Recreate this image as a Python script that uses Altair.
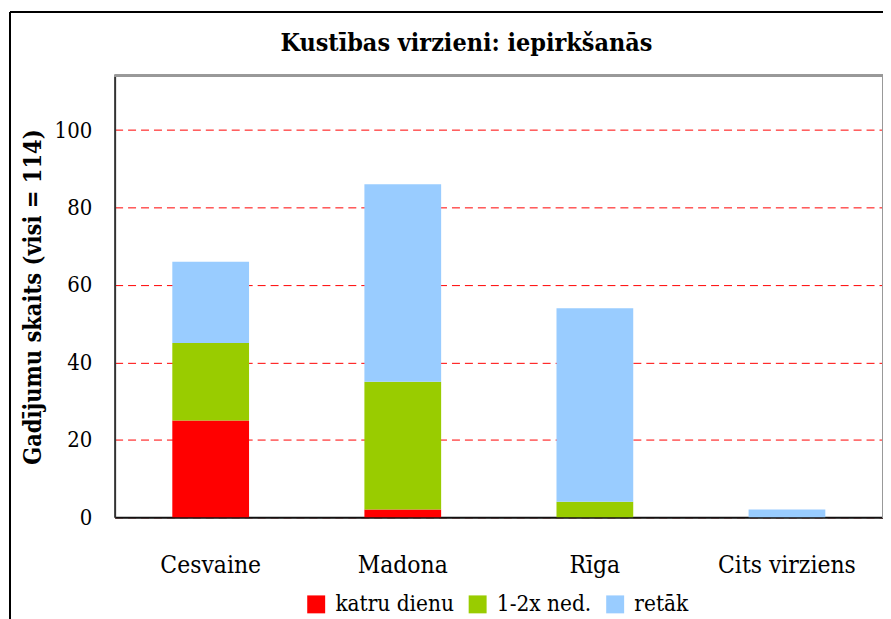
import altair as alt
import pandas as pd

categories = ["Cesvaine", "Madona", "Rīga", "Cits virziens"]
series = ["katru dienu", "1-2x ned.", "retāk"]
katru_dienu = [25, 2, 0, 0]
reizes_ned = [20, 33, 4, 0]
retak = [21, 51, 50, 2]
colors = ["#FF0000", "#99CC00", "#99CCFF"]
y_ticks = [0, 20, 40, 60, 80, 100]
title_text = ["Kustības virzieni: iepirkšanās"]

rows = []
for i, c in enumerate(categories):
    for j, (s, vals) in enumerate(zip(series, [katru_dienu, reizes_ned, retak])):
        rows.append({"virziens": c, "biezums": s, "skaits": vals[i], "seciba": j})
df = pd.DataFrame(rows)

FONT = "DejaVu Serif Condensed, DejaVu Serif"
W, H = 771, 443

bars = alt.Chart(df).mark_bar(size=77).encode(
    x=alt.X(
        "virziens:N",
        sort=categories,
        scale=alt.Scale(paddingInner=0, paddingOuter=0),
        axis=alt.Axis(
            title=None, labelAngle=0, ticks=False, labelPadding=36,
            labelFontSize=24.5, labelFont=FONT, labelColor="#000",
            domainColor="#111", domainWidth=2,
        ),
    ),
    y=alt.Y(
        "skaits:Q",
        stack="zero",
        scale=alt.Scale(domain=[0, 114], nice=False),
        axis=alt.Axis(
            title="Gadījumu skaits (visi = 114)", values=y_ticks, ticks=False,
            labelPadding=23, labelFontSize=22, labelFont=FONT, labelColor="#000",
            titleFont=FONT, titleFontSize=23.5, titleFontWeight="bold", titleColor="#000",
            titlePadding=9,
            grid=True, gridColor="#FF0000", gridDash=[8, 5], gridWidth=1,
            domainColor="#333", domainWidth=2,
        ),
    ),
    color=alt.Color(
        "biezums:N",
        sort=series,
        scale=alt.Scale(domain=series, range=colors),
        legend=alt.Legend(
            title=None, orient="none", direction="horizontal",
            legendX=191, legendY=519,
            symbolType="square", symbolSize=324, symbolStrokeWidth=0,
            symbolOpacity=1, labelFontSize=22.5, labelFont=FONT, labelColor="#000",
            labelOffset=8, columnPadding=12,
        ),
    ),
    order=alt.Order("seciba:Q"),
)

frame_left = alt.Chart(df).mark_rule(color="#000", strokeWidth=1.5).encode(
    x=alt.value(-105), y=alt.value(-64), y2=alt.value(700)
)
frame_top = alt.Chart(df).mark_rule(color="#000", strokeWidth=1.5).encode(
    x=alt.value(-105), x2=alt.value(900), y=alt.value(-64)
)
plot_top = alt.Chart(df).mark_rule(color="#999999", strokeWidth=2).encode(
    x=alt.value(0), x2=alt.value(W), y=alt.value(0)
)
plot_right = alt.Chart(df).mark_rule(color="#999999", strokeWidth=2).encode(
    x=alt.value(W), y=alt.value(0), y2=alt.value(H)
)
title = alt.Chart(pd.DataFrame({"t": title_text})).mark_text(
    font=FONT, fontSize=25, fontWeight="bold", color="#000",
    align="center", baseline="alphabetic",
).encode(text="t:N", x=alt.value(353), y=alt.value(-25))

chart = (
    alt.layer(plot_top, plot_right, bars, frame_left, frame_top, title)
    .properties(
        width=W,
        height=H,
        padding={"left": 107, "top": 67, "right": 0, "bottom": 101},
        autosize=alt.AutoSizeParams(type="none"),
    )
    .configure_view(stroke=None)
    .configure(background="white")
)

chart.save("out.html", embed_options={"renderer": "svg", "actions": False})
